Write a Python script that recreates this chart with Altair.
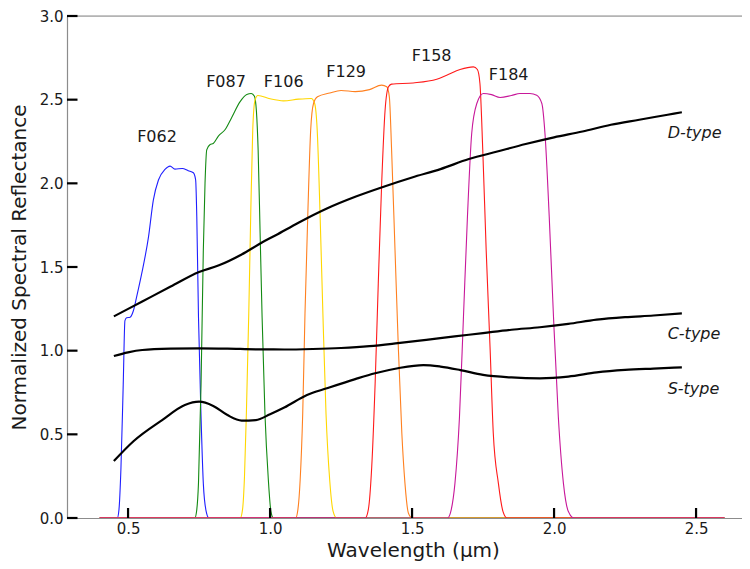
import altair as alt
import pandas as pd

# ---------------- data ----------------
filter_names = ["F062", "F087", "F106", "F129", "F158", "F184"]
filter_colors = ["#1f1fff", "#138a13", "#ffd700", "#ff8020", "#ff1a1a", "#c8189a"]

f062_x = [0.40, 0.462, 0.468, 0.475, 0.483, 0.489, 0.495, 0.507, 0.519, 0.530, 0.548, 0.572, 0.589, 0.607,
          0.630, 0.648, 0.665, 0.691, 0.712, 0.730, 0.738, 0.742, 0.748, 0.757, 0.765, 0.775, 0.785, 2.60]
f062_y = [0, 0, 0.05, 0.30, 0.80, 1.18, 1.197, 1.20, 1.24, 1.32, 1.46, 1.68, 1.90, 2.02,
          2.083, 2.103, 2.085, 2.089, 2.075, 2.063, 2.02, 1.80, 1.20, 0.605, 0.207, 0.04, 0, 0]

f087_x = [0.40, 0.735, 0.742, 0.748, 0.757, 0.765, 0.771, 0.777, 0.789, 0.800, 0.818, 0.842, 0.865, 0.894,
          0.918, 0.934, 0.945, 0.952, 0.958, 0.965, 0.972, 0.982, 0.994, 1.003, 1.012, 2.60]
f087_y = [0, 0, 0.05, 0.21, 0.80, 1.60, 2.00, 2.20, 2.232, 2.238, 2.282, 2.322, 2.394, 2.487,
          2.531, 2.537, 2.52, 2.43, 2.20, 1.70, 1.20, 0.625, 0.227, 0.04, 0, 0]

f106_x = [0.40, 0.895, 0.903, 0.910, 0.917, 0.925, 0.932, 0.939, 0.947, 0.957, 1.00, 1.047, 1.10, 1.145,
          1.157, 1.166, 1.176, 1.186, 1.197, 1.210, 1.222, 1.235, 2.60]
f106_y = [0, 0, 0.05, 0.25, 0.65, 1.22, 1.82, 2.318, 2.497, 2.525, 2.505, 2.493, 2.503, 2.507,
          2.477, 2.318, 1.82, 1.223, 0.625, 0.227, 0.04, 0, 0]

f129_x = [0.40, 1.09, 1.098, 1.106, 1.115, 1.123, 1.133, 1.143, 1.153, 1.167, 1.21, 1.25, 1.30, 1.35,
          1.393, 1.411, 1.420, 1.428, 1.440, 1.452, 1.464, 1.475, 1.487, 1.50, 2.60]
f129_y = [0, 0, 0.05, 0.227, 0.625, 1.223, 1.82, 2.318, 2.477, 2.517, 2.54, 2.555, 2.548, 2.56,
          2.587, 2.577, 2.517, 2.198, 1.60, 1.004, 0.506, 0.207, 0.03, 0, 0]

f158_x = [0.40, 1.335, 1.346, 1.358, 1.370, 1.381, 1.393, 1.405, 1.417, 1.428, 1.504, 1.587, 1.622, 1.669,
          1.716, 1.730, 1.739, 1.749, 1.761, 1.775, 1.786, 1.804, 1.82, 1.835, 2.60]
f158_y = [0, 0, 0.05, 0.306, 0.805, 1.40, 2.00, 2.437, 2.577, 2.593, 2.60, 2.622, 2.646, 2.680,
          2.696, 2.680, 2.597, 2.198, 1.60, 1.004, 0.506, 0.207, 0.04, 0, 0]

f184_x = [0.40, 1.625, 1.638, 1.651, 1.667, 1.681, 1.695, 1.710, 1.728, 1.751, 1.78, 1.810, 1.85, 1.880,
          1.915, 1.939, 1.957, 1.968, 1.983, 1.998, 2.015, 2.033, 2.05, 2.07, 2.60]
f184_y = [0, 0, 0.05, 0.207, 0.605, 1.203, 1.80, 2.298, 2.477, 2.537, 2.53, 2.513, 2.525, 2.537,
          2.537, 2.527, 2.477, 2.298, 1.80, 1.203, 0.605, 0.207, 0.04, 0, 0]

d_x = [0.45, 0.55, 0.65, 0.75, 0.82, 0.90, 0.97, 1.02, 1.10, 1.20, 1.30, 1.40, 1.50, 1.60, 1.70,
       1.80, 1.90, 2.00, 2.10, 2.20, 2.30, 2.40, 2.45]
d_y = [1.205, 1.294, 1.383, 1.470, 1.51, 1.575, 1.645, 1.69, 1.765, 1.85, 1.92, 1.98, 2.035, 2.085, 2.145,
       2.19, 2.235, 2.275, 2.31, 2.35, 2.38, 2.41, 2.425]

c_x = [0.45, 0.50, 0.55, 0.65, 0.75, 0.85, 0.95, 1.05, 1.15, 1.25, 1.35, 1.45, 1.55, 1.65, 1.75,
       1.85, 1.95, 2.05, 2.15, 2.25, 2.35, 2.45]
c_y = [0.968, 0.99, 1.004, 1.012, 1.014, 1.012, 1.008, 1.007, 1.010, 1.016, 1.027, 1.045, 1.065, 1.085, 1.105,
       1.125, 1.14, 1.16, 1.185, 1.20, 1.21, 1.223]

s_x = [0.45, 0.52, 0.62, 0.70, 0.75, 0.80, 0.85, 0.90, 0.95, 1.00, 1.05, 1.13, 1.20, 1.30, 1.37, 1.45,
       1.54, 1.60, 1.67, 1.75, 1.85, 1.95, 2.05, 2.15, 2.25, 2.35, 2.45]
s_y = [0.34, 0.46, 0.585, 0.675, 0.695, 0.67, 0.615, 0.582, 0.585, 0.62, 0.66, 0.735, 0.775, 0.83, 0.865, 0.895,
       0.914, 0.905, 0.884, 0.855, 0.84, 0.835, 0.845, 0.87, 0.885, 0.893, 0.90]

filter_label_x = [0.602, 0.845, 1.048, 1.268, 1.569, 1.84]
filter_label_y = [2.276, 2.606, 2.606, 2.664, 2.76, 2.65]

type_names = ["D-type", "C-type", "S-type"]
type_label_x = [2.40, 2.40, 2.40]
type_label_y = [2.30, 1.097, 0.769]

x_ticks = [0.5, 1.0, 1.5, 2.0, 2.5]
y_ticks = [0.0, 0.5, 1.0, 1.5, 2.0, 2.5, 3.0]

# ---------------- tables ----------------
W, H = 675, 502
X0 = 0.285
PX_PER_X = 284.0
PX_PER_Y = H / 3.0
FONT = "DejaVu Sans"

fx = [f062_x, f087_x, f106_x, f129_x, f158_x, f184_x]
fy = [f062_y, f087_y, f106_y, f129_y, f158_y, f184_y]
rows = []
for name, xs_, ys_ in zip(filter_names, fx, fy):
    for i, (a, b) in enumerate(zip(xs_, ys_)):
        rows.append({"filter": name, "wl": a, "r": b, "i": i})
df_f = pd.DataFrame(rows)

rows = []
for name, xs_, ys_ in zip(type_names, [d_x, c_x, s_x], [d_y, c_y, s_y]):
    for i, (a, b) in enumerate(zip(xs_, ys_)):
        rows.append({"type": name, "wl": a, "r": b, "i": i})
df_t = pd.DataFrame(rows)

df_fl = pd.DataFrame({"label": filter_names, "wl": filter_label_x, "r": filter_label_y})
df_tl = pd.DataFrame({"label": type_names, "wl": type_label_x, "r": type_label_y})
# inward tick marks (matplotlib style): tick value plus tick length in data units
df_xt = pd.DataFrame({"xv": x_ticks, "y0": [0.0] * len(x_ticks), "y1": [10 / PX_PER_Y] * len(x_ticks)})
df_yt = pd.DataFrame({"yv": y_ticks, "x0": [X0] * len(y_ticks), "x1": [X0 + 10.5 / PX_PER_X] * len(y_ticks)})

xs = alt.Scale(domain=[X0, X0 + W / PX_PER_X], nice=False, zero=False)
ys = alt.Scale(domain=[0, 3.0], nice=False, zero=False)

x_axis = alt.Axis(values=x_ticks, format=".1f", ticks=False, tickSize=0, grid=False,
                  labelPadding=3, labelFontSize=15, labelFont=FONT, labelColor="#1a1a1a",
                  domainColor="#8c8c8c", domainWidth=1.2,
                  title="Wavelength (μm)", titleFont=FONT, titleFontSize=20,
                  titleFontWeight="normal", titleColor="#1a1a1a",
                  titleX=346, titleY=38.5, titleBaseline="alphabetic", titleAlign="center")
y_axis = alt.Axis(values=y_ticks, format=".1f", ticks=False, tickSize=0, grid=False,
                  labelPadding=4, labelFontSize=15, labelFont=FONT, labelColor="#1a1a1a",
                  domainColor="#8c8c8c", domainWidth=1.2,
                  title="Normalized Spectral Reflectance", titleFont=FONT, titleFontSize=20,
                  titleFontWeight="normal", titleColor="#1a1a1a",
                  titleX=-48, titleY=H / 2, titleAngle=270, titleBaseline="middle", titleAlign="center")

filt = alt.Chart(df_f).mark_line(strokeWidth=1.1, interpolate="monotone", clip=True).encode(
    x=alt.X("wl:Q", scale=xs, axis=x_axis),
    y=alt.Y("r:Q", scale=ys, axis=y_axis),
    color=alt.Color("filter:N", scale=alt.Scale(domain=filter_names, range=filter_colors), legend=None),
    order="i:Q",
)

spectra = alt.Chart(df_t).mark_line(strokeWidth=2.2, color="black", interpolate="monotone").encode(
    x=alt.X("wl:Q", scale=xs),
    y=alt.Y("r:Q", scale=ys),
    detail="type:N",
    order="i:Q",
)

flabels = alt.Chart(df_fl).mark_text(font=FONT, fontSize=16, color="#1a1a1a", align="center",
                                     baseline="middle").encode(
    x=alt.X("wl:Q", scale=xs), y=alt.Y("r:Q", scale=ys), text="label:N")

tlabels = alt.Chart(df_tl).mark_text(font=FONT, fontSize=16, fontStyle="italic", color="#1a1a1a",
                                     align="left", baseline="middle").encode(
    x=alt.X("wl:Q", scale=xs), y=alt.Y("r:Q", scale=ys), text="label:N")

xt = alt.Chart(df_xt).mark_rule(color="black", strokeWidth=2.2).encode(
    x=alt.X("xv:Q", scale=xs), y=alt.Y("y0:Q", scale=ys), y2="y1:Q")
yt = alt.Chart(df_yt).mark_rule(color="black", strokeWidth=2.2).encode(
    y=alt.Y("yv:Q", scale=ys), x=alt.X("x0:Q", scale=xs), x2="x1:Q")

top = alt.Chart(pd.DataFrame({"tv": [3.0]})).mark_rule(color="#8c8c8c", strokeWidth=1.2).encode(
    y=alt.Y("tv:Q", scale=ys), x=alt.value(0), x2=alt.value(W))

chart = alt.layer(filt, spectra, flabels, tlabels, top, xt, yt).properties(
    width=W, height=H,
    autosize=alt.AutoSizeParams(type="none"),
    padding={"left": 59, "top": 8, "right": 0, "bottom": 43},
).configure_view(stroke=None).configure(background="white")

chart.save("out.html", embed_options={"renderer": "svg", "actions": False})
